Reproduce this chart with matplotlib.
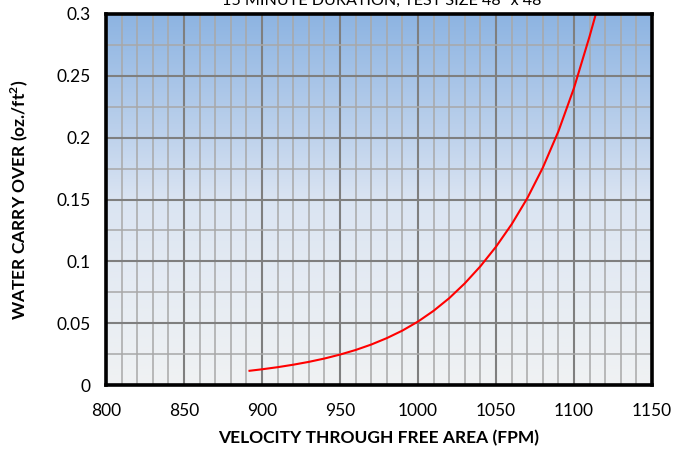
import numpy as np
import matplotlib
matplotlib.use("Agg")
import matplotlib.pyplot as plt
from matplotlib.colors import LinearSegmentedColormap
from matplotlib.ticker import MultipleLocator

plt.rcParams['font.family'] = ['Lato', 'DejaVu Sans']

# Data
velocity = [892, 900, 910, 920, 930, 940, 950, 960, 970, 980, 990, 1000, 1010, 1020,
            1030, 1040, 1050, 1060, 1070, 1080, 1090, 1100, 1110, 1114]
carry_over = [0.0115, 0.0127, 0.0144, 0.0164, 0.0187, 0.0214, 0.0246, 0.0283, 0.0327,
              0.0379, 0.0440, 0.0513, 0.0600, 0.0702, 0.0822, 0.0960, 0.1118, 0.1299,
              0.1509, 0.1757, 0.2051, 0.2402, 0.2820, 0.3]

x_ticks = [800, 850, 900, 950, 1000, 1050, 1100, 1150]
y_ticks = [0, 0.05, 0.1, 0.15, 0.2, 0.25, 0.3]
y_tick_labels = ['0', '0.05', '0.1', '0.15', '0.2', '0.25', '0.3']

fig = plt.figure(figsize=(6.74, 4.51), dpi=100)
ax = fig.add_axes([106/674, 1-385/451, 546/674, 371/451])

# gradient background
cmap = LinearSegmentedColormap.from_list('bg', [
    (0.0, (240/255, 242/255, 243/255)),
    (0.33, (227/255, 234/255, 243/255)),
    (0.5, (218/255, 228/255, 242/255)),
    (0.67, (190/255, 210/255, 236/255)),
    (1.0, (141/255, 180/255, 226/255)),
])
grad = np.linspace(0, 1, 256).reshape(-1, 1)
ax.imshow(grad, aspect='auto', cmap=cmap, origin='lower',
          extent=[800, 1150, 0, 0.3], zorder=0, interpolation='bicubic')

ax.set_xlim(800, 1150)
ax.set_ylim(0, 0.3)
ax.set_xticks(x_ticks)
ax.set_yticks(y_ticks)
ax.set_yticklabels(y_tick_labels)
ax.xaxis.set_minor_locator(MultipleLocator(10))
ax.yaxis.set_minor_locator(MultipleLocator(0.025))

ax.grid(which='minor', color='#A8A8A8', linewidth=1.1, zorder=1)
ax.grid(which='major', color='#7F7F7F', linewidth=1.5, zorder=1)
ax.set_axisbelow(False)

ax.plot(velocity, carry_over, color='#FF0000', linewidth=1.5, zorder=3,
        solid_joinstyle='round')

for s in ax.spines.values():
    s.set_linewidth(2.6)
    s.set_color('black')
    s.set_zorder(4)

ax.tick_params(which='both', length=0, labelsize=12.5)
ax.tick_params(axis='y', pad=11)
ax.tick_params(axis='x', pad=13)

fig.text(379/674, 1-438/451, 'VELOCITY THROUGH FREE AREA (FPM)', ha='center', va='center',
         fontsize=12.5, fontweight='bold')
fig.text(19/674, 1-200/451, 'WATER CARRY OVER (oz./ft$^\\mathregular{2}$)', ha='center',
         va='center', rotation=90, fontsize=12.5, fontweight='bold')

fig.text(385/674, 1-4.5/451, '15 MINUTE DURATION, TEST SIZE 48" x 48"', ha='center',
         va='baseline', fontsize=11.6)

fig.savefig('out.png', dpi=100)
